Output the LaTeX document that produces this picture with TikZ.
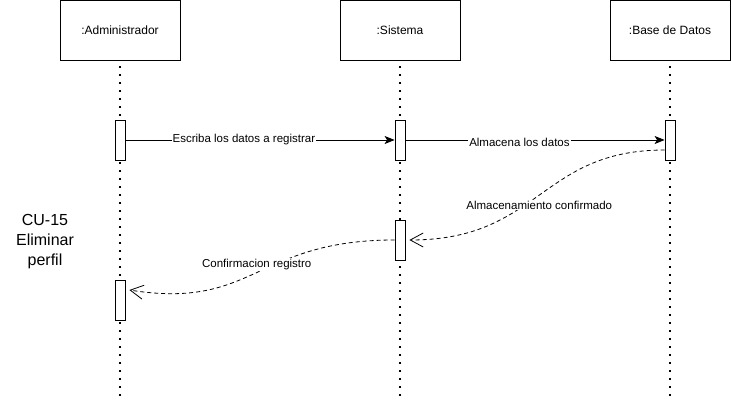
\documentclass[tikz,border=0pt]{standalone}
\usepackage{fontspec}
\setmainfont{Liberation Sans}
\usetikzlibrary{arrows.meta}
\tikzset{
    actor-box/.style = {draw, fill=white, rectangle, minimum width=120pt, minimum height=60pt, inner sep=0pt, font=\fontsize{12}{14}\selectfont},
    act-bar/.style = {draw, fill=white, rectangle, minimum width=10pt, minimum height=40pt, inner sep=0pt},
    life-line/.style = {line width=1.3pt, dash pattern=on 1.3pt off 6.7pt},
    call-msg/.style = {-{Stealth[length=10pt, width=8pt, inset=2.5pt]}},
    reply-msg/.style = {dash pattern=on 4pt off 3pt, -{Straight Barb[length=13pt, width=14pt]}},
    msg-label/.style = {fill=white, inner sep=1pt, font=\fontsize{11.5}{13}\selectfont},
}
\begin{document}
\begin{tikzpicture}[x=1pt, y=-1pt, line width=0.8pt]
\useasboundingbox (0,0) rectangle (731,403);
\node [actor-box] (admin) at (120,30) {:Administrador};
\node [actor-box] (sistema) at (400,30) {:Sistema};
\node [actor-box] (bd) at (670,30) {:Base de Datos};
\coordinate (admin-end) at (120,402);
\coordinate (sistema-end) at (400,402);
\coordinate (bd-end) at (670,402);
\draw [life-line] ([yshift=-6pt]admin.south) -- (admin-end);
\draw [life-line] ([yshift=-6pt]sistema.south) -- (sistema-end);
\draw [life-line] ([yshift=-6pt]bd.south) -- (bd-end);
\node [act-bar] (admin-act1) at (120,140) {};
\node [act-bar] (admin-act2) at (120,300) {};
\node [act-bar] (sistema-act1) at (400,140) {};
\node [act-bar] (sistema-act2) at (400,240) {};
\node [act-bar] (bd-act1) at (670,140) {};
\node [font=\fontsize{16}{20}\selectfont, align=center] (caso) at (45,242) {CU-15\\Eliminar\\perfil};
\draw [call-msg] (admin-act1.east) -- node [msg-label, pos=0.44] (msg1) {Escriba los datos a registrar} (sistema-act1.west);
\draw [call-msg] (sistema-act1.east) -- node [msg-label, pos=0.44, yshift=-2pt] (msg2) {Almacena los datos} (bd-act1.west);
\draw [reply-msg] ([yshift=-10pt]bd-act1.west) .. controls (540,150) and (540,240) .. node [msg-label, yshift=-10pt] (msg3) {Almacenamiento confirmado} ([xshift=4pt]sistema-act2.east);
\draw [reply-msg] (sistema-act2.west) .. controls (255,240) and (255,310) .. node [msg-label, yshift=8pt] (msg4) {Confirmacion registro} ([xshift=4pt, yshift=10pt]admin-act2.east);
\end{tikzpicture}
\end{document}
